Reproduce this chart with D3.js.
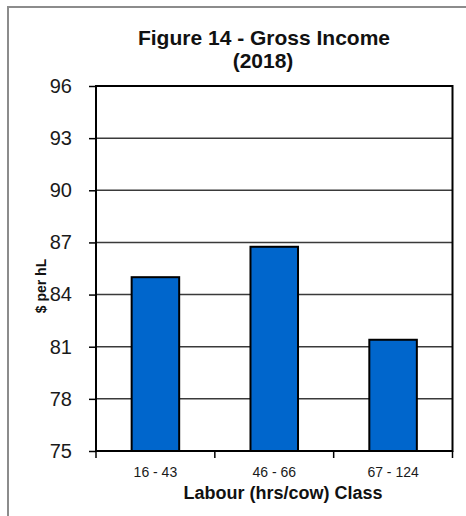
<!DOCTYPE html>
<html>
<head>
<meta charset="utf-8">
<script src="https://cdn.jsdelivr.net/npm/d3@7"></script>
<style>
  html, body { margin: 0; padding: 0; background: #fff; }
  svg { display: block; font-family: "Liberation Sans", Arial, sans-serif; }
</style>
</head>
<body>
<script>
// Gross income per hectolitre by labour class
const categories = ["16 - 43", "46 - 66", "67 - 124"];
const values = [85.0, 86.75, 81.4];
const yTicks = [75, 78, 81, 84, 87, 90, 93, 96];

const W = 466, H = 516;
const margin = { left: 96, right: 13.5, top: 86, bottom: 65 };

const svg = d3.select("body").append("svg")
  .attr("width", W).attr("height", H);

// outer frame (top and left edges)
svg.append("path")
  .attr("d", `M8,${H} V7 H${W}`)
  .attr("fill", "none").attr("stroke", "#8c8c8c").attr("stroke-width", 2);

const x = d3.scaleBand()
  .domain(categories)
  .range([margin.left, W - margin.right])
  .paddingInner(0.6).paddingOuter(0.3);

const y = d3.scaleLinear()
  .domain([75, 96])
  .range([H - margin.bottom, margin.top]);

// gridlines
svg.append("g").selectAll("line")
  .data(yTicks.slice(1, -1))
  .join("line")
  .attr("x1", margin.left).attr("x2", W - margin.right)
  .attr("y1", d => y(d)).attr("y2", d => y(d))
  .attr("stroke", "#3a3a3a").attr("stroke-width", 1.5);

// bars
svg.append("g").selectAll("rect")
  .data(values)
  .join("rect")
  .attr("x", (d, i) => x(categories[i]))
  .attr("width", x.bandwidth())
  .attr("y", d => y(d))
  .attr("height", d => y(75) - y(d))
  .attr("fill", "#0066CC")
  .attr("stroke", "#000").attr("stroke-width", 2);

// plot frame
svg.append("rect")
  .attr("x", margin.left).attr("y", margin.top)
  .attr("width", W - margin.right - margin.left)
  .attr("height", H - margin.bottom - margin.top)
  .attr("fill", "none").attr("stroke", "#000").attr("stroke-width", 2);

// y axis
const yAxis = svg.append("g")
  .attr("transform", `translate(${margin.left},0)`)
  .call(d3.axisLeft(y).tickValues(yTicks).tickSize(7).tickPadding(17));
yAxis.select(".domain").remove();
yAxis.selectAll(".tick line").attr("stroke", "#000").attr("stroke-width", 1.5);
yAxis.selectAll(".tick text")
  .attr("font-size", 20).attr("fill", "#1a1a1a")
  .attr("font-family", "Liberation Sans, Arial, sans-serif");

// x axis: ticks at band boundaries
const xEdges = [margin.left, ...categories.slice(1).map(c => x(c) - x.step() * x.paddingInner() / 2), W - margin.right];
svg.append("g").selectAll("line")
  .data(xEdges)
  .join("line")
  .attr("x1", d => d).attr("x2", d => d)
  .attr("y1", y(75)).attr("y2", y(75) + 7)
  .attr("stroke", "#000").attr("stroke-width", 1.5);

svg.append("g").selectAll("text")
  .data(categories)
  .join("text")
  .attr("x", d => x(d) + x.bandwidth() / 2)
  .attr("y", 477)
  .attr("text-anchor", "middle")
  .attr("font-size", 14).attr("fill", "#1a1a1a")
  .text(d => d);

// titles
svg.append("text")
  .attr("x", 264).attr("y", 44.5)
  .attr("text-anchor", "middle")
  .attr("font-size", 21).attr("font-weight", "bold").attr("fill", "#111")
  .text("Figure 14 - Gross Income");
svg.append("text")
  .attr("x", 263).attr("y", 68)
  .attr("text-anchor", "middle")
  .attr("font-size", 21).attr("font-weight", "bold").attr("fill", "#111")
  .text("(2018)");

svg.append("text")
  .attr("x", 283).attr("y", 499)
  .attr("text-anchor", "middle")
  .attr("font-size", 18).attr("font-weight", "bold").attr("fill", "#111")
  .text("Labour (hrs/cow) Class");

svg.append("text")
  .attr("transform", "translate(46,286) rotate(-90)")
  .attr("text-anchor", "middle")
  .attr("font-size", 14).attr("font-weight", "bold").attr("fill", "#111")
  .text("$ per hL");
</script>
</body>
</html>
